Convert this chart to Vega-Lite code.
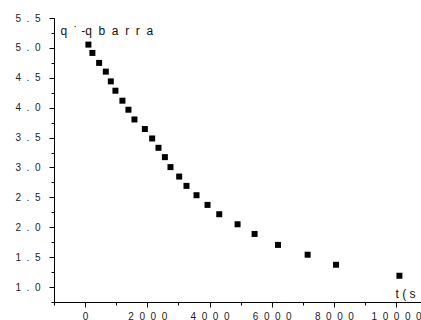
{
  "$schema": "https://vega.github.io/schema/vega-lite/v6.json",
  "autosize": {"type": "none"},
  "padding": {"left": 54, "top": 18, "right": 0, "bottom": 18},
  "width": 367,
  "height": 284,
  "background": "white",
  "config": {
    "view": {"stroke": null},
    "font": "Liberation Sans",
    "axis": {
      "grid": false,
      "domainColor": "#000",
      "tickColor": "#000",
      "labelColor": "#222",
      "labelFont": "Liberation Sans",
      "titleFont": "Liberation Sans",
      "labelFontSize": 10,
      "titleFontWeight": "normal",
      "titleColor": "#111",
      "titleFontSize": 12
    }
  },
  "data": {
    "values": [
      {"t": 106, "q": 5.055},
      {"t": 235, "q": 4.916},
      {"t": 451, "q": 4.749},
      {"t": 666, "q": 4.603},
      {"t": 827, "q": 4.44},
      {"t": 975, "q": 4.284},
      {"t": 1200, "q": 4.117},
      {"t": 1394, "q": 3.966},
      {"t": 1587, "q": 3.803},
      {"t": 1921, "q": 3.643},
      {"t": 2156, "q": 3.485},
      {"t": 2359, "q": 3.329},
      {"t": 2565, "q": 3.173},
      {"t": 2745, "q": 3.006},
      {"t": 3025, "q": 2.848},
      {"t": 3260, "q": 2.692},
      {"t": 3582, "q": 2.536},
      {"t": 3936, "q": 2.374},
      {"t": 4313, "q": 2.218},
      {"t": 4902, "q": 2.05},
      {"t": 5449, "q": 1.888},
      {"t": 6202, "q": 1.705},
      {"t": 7155, "q": 1.541},
      {"t": 8069, "q": 1.373},
      {"t": 10106, "q": 1.189}
    ]
  },
  "layer": [
    {
      "mark": {"type": "point", "shape": "square", "filled": true, "size": 36, "color": "#000", "opacity": 1},
      "encoding": {
        "x": {
          "field": "t", "type": "quantitative",
          "scale": {"domain": [-1000, 10800], "nice": false, "zero": false},
          "axis": {
            "orient": "bottom",
            "values": [0, 2000, 4000, 6000, 8000, 10000],
            "format": "d",
            "tickSize": 5,
            "labelPadding": 4,
            "labelFlush": false,
            "labelOverlap": false,
            "labelExpr": "join(split(datum.label, ''), '\u00a0\u00a0')",
            "title": "t\u00a0(\u00a0s",
            "titleX": 341,
            "titleY": -5,
            "titleAlign": "left",
            "titleBaseline": "alphabetic",
            "titleAngle": 0
          }
        },
        "y": {
          "field": "q", "type": "quantitative",
          "scale": {"domain": [0.75, 5.5], "nice": false, "zero": false},
          "axis": {
            "orient": "left",
            "values": [1, 1.5, 2, 2.5, 3, 3.5, 4, 4.5, 5, 5.5],
            "format": ".1f",
            "tickSize": 5,
            "labelPadding": 9,
            "labelFlush": false,
            "labelOverlap": false,
            "labelExpr": "join(split(datum.label, ''), '\u00a0\u00a0')",
            "title": "q\u00a0\u00a0˙\u00a0-q\u00a0\u00a0b\u00a0\u00a0a\u00a0\u00a0r\u00a0\u00a0r\u00a0\u00a0a",
            "titleX": 6,
            "titleY": 16,
            "titleAngle": 0,
            "titleAlign": "left",
            "titleBaseline": "alphabetic"
          }
        }
      }
    },
    {
      "mark": {"type": "point", "opacity": 0},
      "encoding": {
        "x": {
          "field": "t", "type": "quantitative",
          "axis": {
            "orient": "bottom",
            "values": [-1000, 1000, 3000, 5000, 7000, 9000],
            "tickSize": 3,
            "labels": false,
            "domain": false,
            "title": null
          }
        },
        "y": {
          "field": "q", "type": "quantitative",
          "axis": {
            "orient": "left",
            "values": [0.75, 1.25, 1.75, 2.25, 2.75, 3.25, 3.75, 4.25, 4.75, 5.25],
            "tickSize": 3,
            "labels": false,
            "domain": false,
            "title": null
          }
        }
      }
    }
  ],
  "resolve": {"axis": {"x": "independent", "y": "independent"}}
}
